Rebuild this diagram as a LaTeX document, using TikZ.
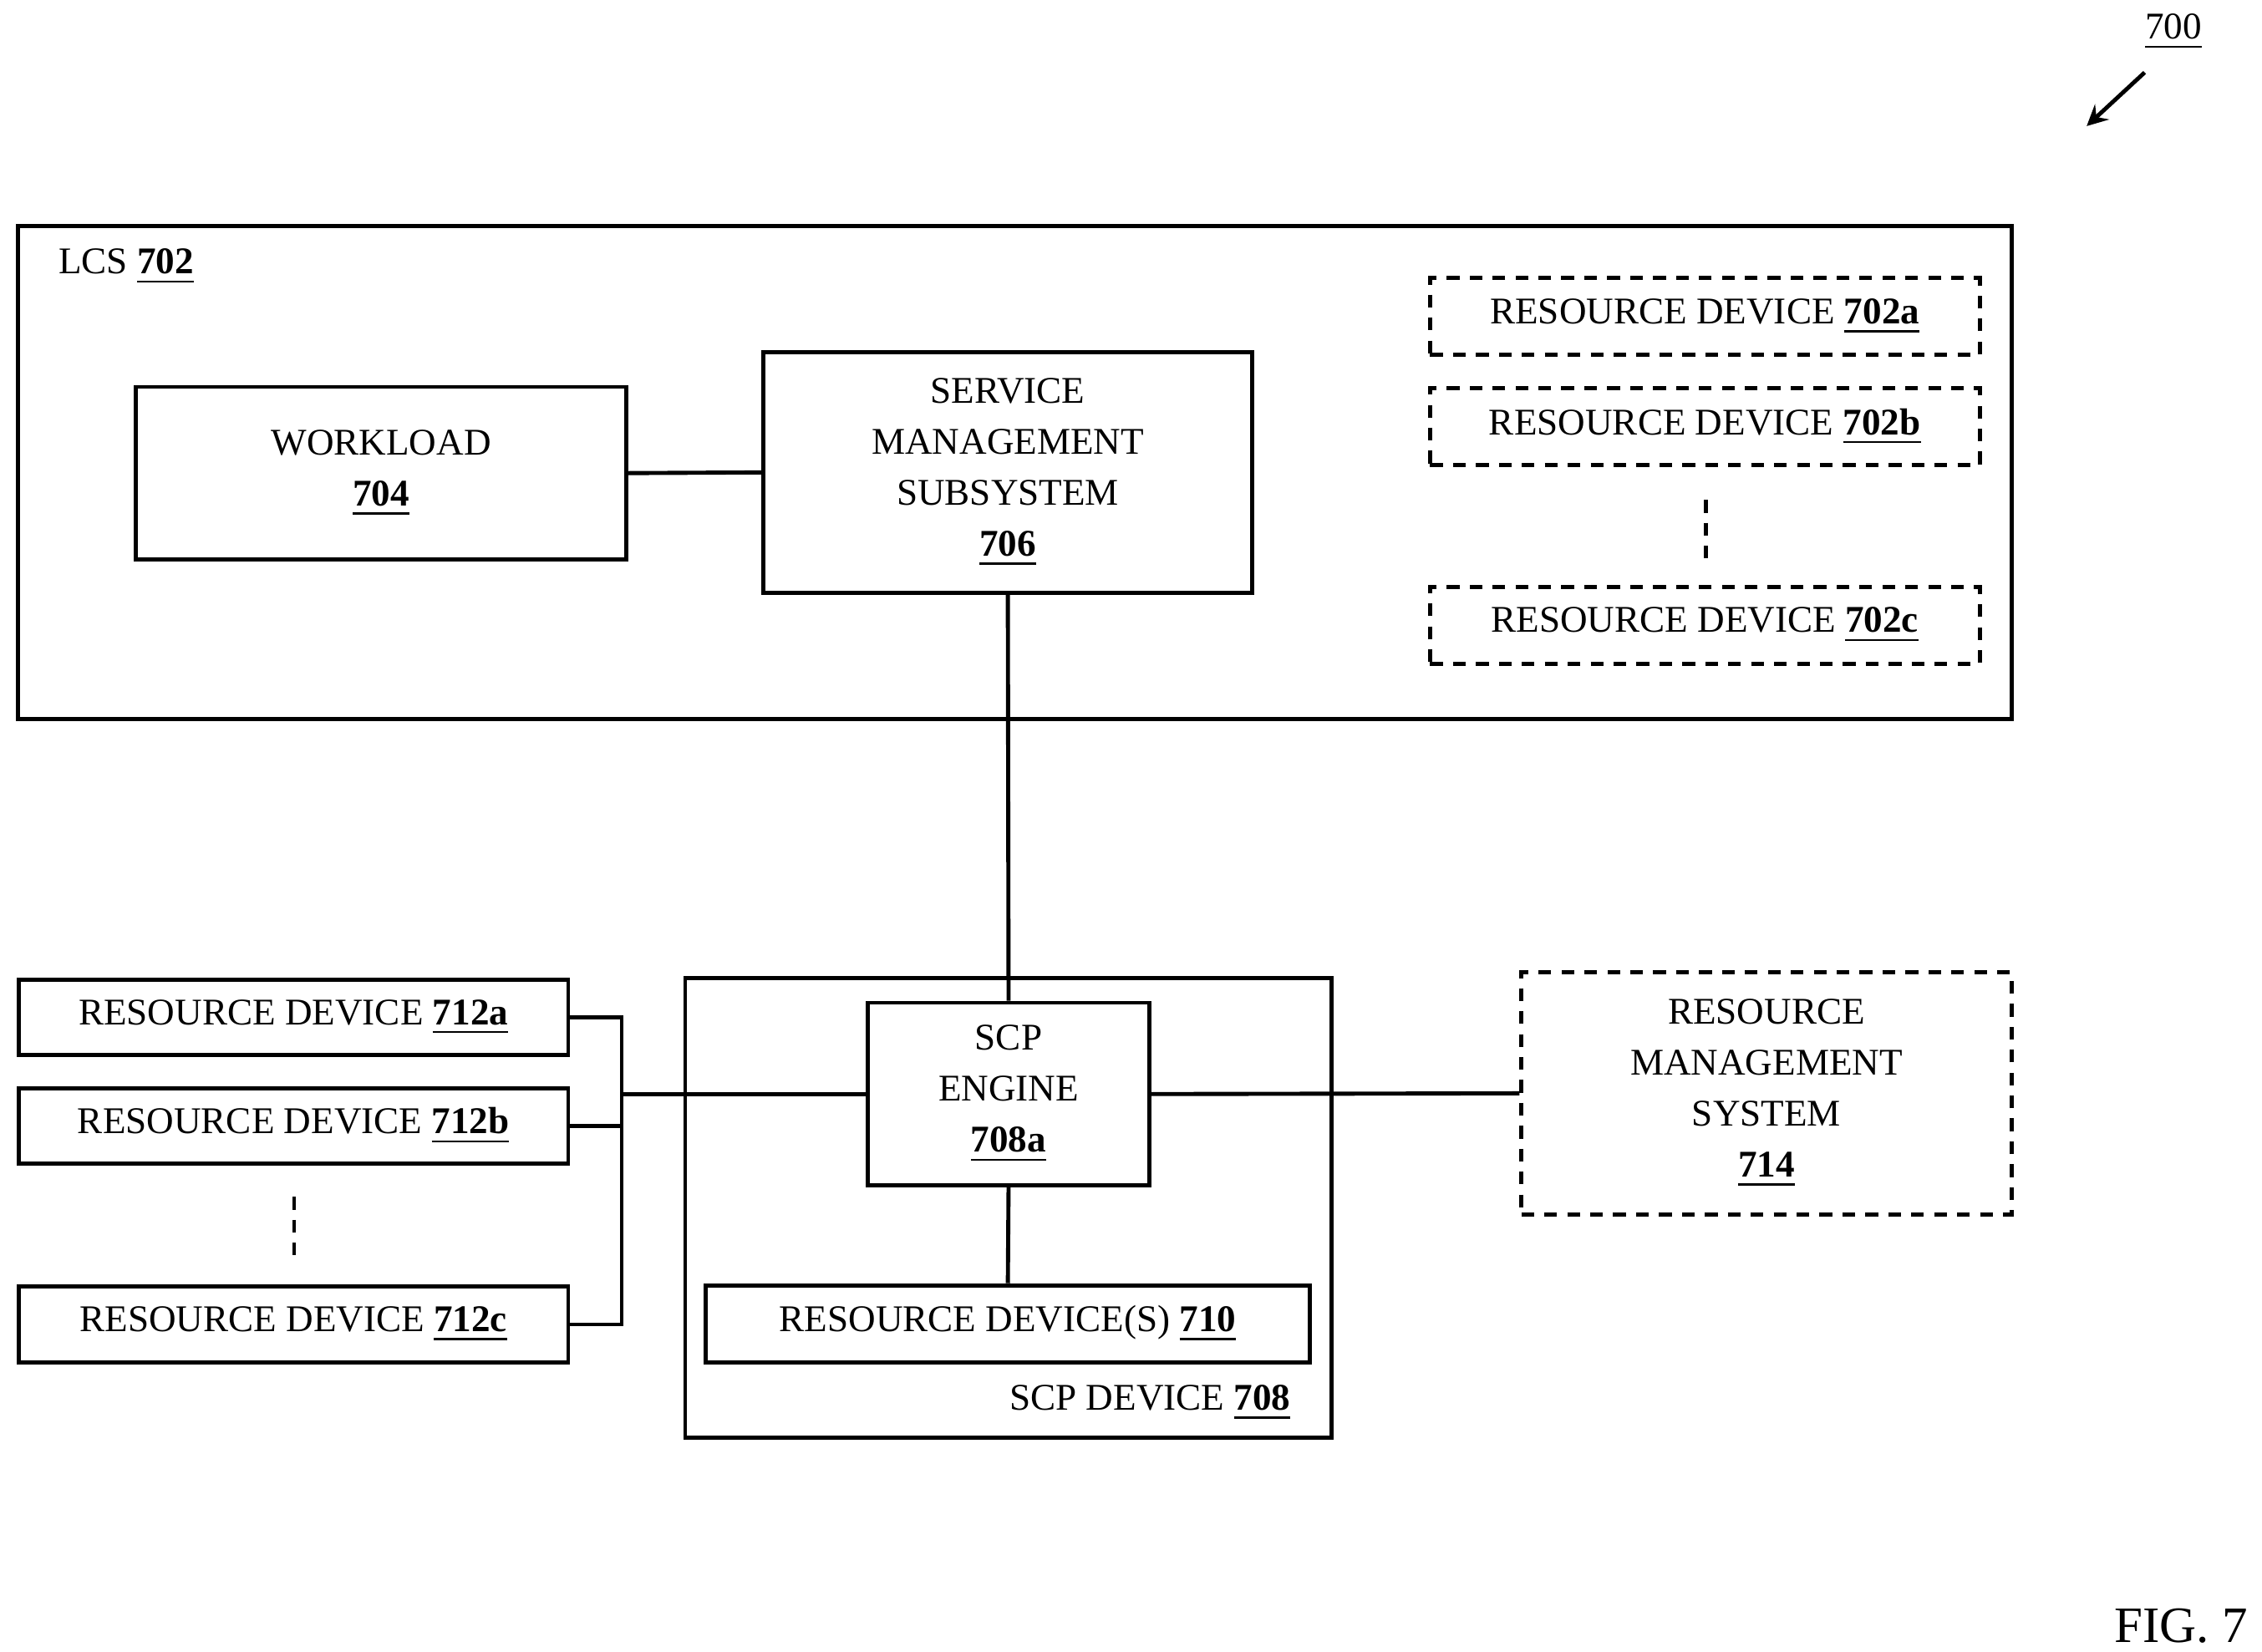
\documentclass[tikz,border=0pt]{standalone}
\usepackage{fontspec}
\setmainfont{Liberation Serif}
\usetikzlibrary{arrows}
\tikzstyle{box} = [rectangle, draw=black, line width=0.8pt, inner sep=0pt, align=center, font=\fontsize{7.4}{10}\selectfont]
\tikzstyle{dbox} = [box, dash pattern=on 2.5pt off 2pt]
\tikzstyle{wire} = [line width=0.8pt]
\newcommand{\refnum}[1]{\underline{\textbf{#1}}}

\begin{document}
\begin{tikzpicture}[x=0.01cm, y=-0.01cm]
\useasboundingbox (0,0) rectangle (1561,1140);
\tikzset{every node/.append style={font=\fontsize{7.4}{10}\selectfont}}
% top part
\node (lcs) [box, minimum width=13.75cm, minimum height=3.4cm] at (700.5,326) {};
\node [anchor=west] at (28,184) {LCS \refnum{702}};
\node (wl) [box, minimum width=3.38cm, minimum height=1.19cm] at (263,326.5) {WORKLOAD\\\refnum{704}};
\node (sms) [box, minimum width=3.37cm, minimum height=1.66cm] at (695.5,326) {SERVICE\\MANAGEMENT\\SUBSYSTEM\\\refnum{706}};
\node (r702a) [dbox, minimum width=3.79cm, minimum height=0.53cm] at (1176.5,218.5) {RESOURCE DEVICE \refnum{702a}};
\node (r702b) [dbox, minimum width=3.79cm, minimum height=0.53cm] at (1176.5,294.5) {RESOURCE DEVICE \refnum{702b}};
\node (r702c) [dbox, minimum width=3.79cm, minimum height=0.53cm] at (1176.5,431.5) {RESOURCE DEVICE \refnum{702c}};
\draw [wire, dash pattern=on 2.5pt off 2pt] (1177,345) -- (1177,385);

% bottom part
\node (scp) [box, minimum width=4.46cm, minimum height=3.17cm] at (696,833.5) {};
\node [anchor=east] at (903,968) {SCP DEVICE \refnum{708}};
\node (eng) [box, fill=white, minimum width=1.94cm, minimum height=1.26cm] at (696,755) {SCP\\ENGINE\\\refnum{708a}};
\node (r710) [box, minimum width=4.17cm, minimum height=0.53cm] at (695.5,913.5) {RESOURCE DEVICE(S) \refnum{710}};
\node (r712a) [box, minimum width=3.79cm, minimum height=0.52cm] at (202.5,702) {RESOURCE DEVICE \refnum{712a}};
\node (r712b) [box, minimum width=3.79cm, minimum height=0.52cm] at (202.5,777) {RESOURCE DEVICE \refnum{712b}};
\node (r712c) [box, minimum width=3.79cm, minimum height=0.52cm] at (202.5,914) {RESOURCE DEVICE \refnum{712c}};
\draw [wire, dash pattern=on 2.5pt off 2pt] (203,826) -- (203,866);
\node (rms) [dbox, minimum width=3.38cm, minimum height=1.67cm] at (1219,754.5) {RESOURCE\\MANAGEMENT\\SYSTEM\\\refnum{714}};

% connectors
\coordinate (bus) at (429,702);
\draw [wire] (wl.east) -- (sms.west);
\draw [wire] (sms.south) -- (eng.north);
\draw [wire] (eng.south) -- (r710.north);
\draw [wire] (eng.east) -- (rms.west);
\draw [wire] (r712a.east) -- (bus) |- (r712c.east);
\draw [wire] (r712b.east) -- (r712b.east -| bus);
\draw [wire] (bus |- eng.west) -- (eng.west);

% labels
\node (fignum) at (1500,22) {\underline{700}};
\coordinate (figtip) at (1440,87);
\draw [wire, ->, >=stealth] (1480,50) -- (figtip);
\node (fig) [font=\fontsize{10}{12}\selectfont] at (1505,1122) {FIG. 7};
\end{tikzpicture}
\end{document}
